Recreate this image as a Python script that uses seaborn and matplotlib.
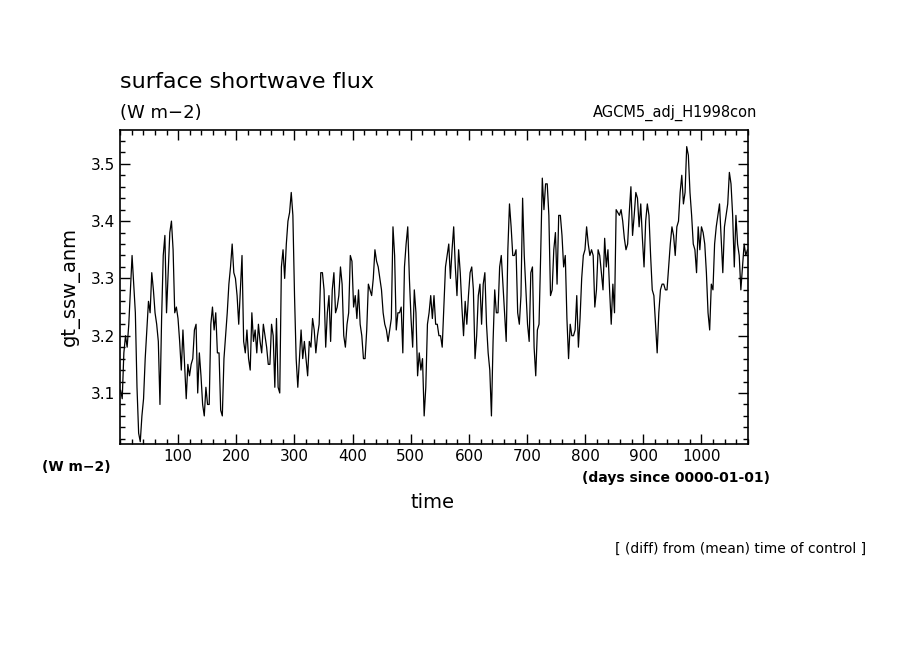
import numpy as np
import pandas as pd
import matplotlib
matplotlib.use("Agg")
import matplotlib.pyplot as plt
from matplotlib.ticker import MultipleLocator
import seaborn as sns

seg1 = [3.105,3.09,3.17,3.20,3.18,3.22,3.28,3.34,3.29,3.24,3.11,3.03,3.015,3.06,3.09,3.16,3.21,3.26,3.24,3.31,
        3.28,3.24,3.22,3.19,3.08,3.23,3.34,3.375,3.24,3.31,3.38,3.40,3.35,3.24,3.25,3.23,3.19,3.14,3.21,3.15,
        3.09,3.15,3.13,3.15,3.16,3.21,3.22,3.10,3.17,3.13,3.08,3.06,3.11,3.08,3.08,3.22,3.25,3.21,3.24,3.17,
        3.17,3.07,3.06,3.16,3.20,3.24,3.29,3.32,3.36,3.31,3.30,3.27,3.22,3.28,3.34,3.19,3.17,3.21,3.16,3.14,
        3.24,3.19,3.21,3.17,3.22,3.19,3.17,3.22,3.20,3.18,3.15,3.15,3.22,3.20,3.11]
seg2 = [3.23,3.11,3.10,3.32,3.35,3.30,3.36,3.40,3.415,3.45,3.41,3.27,3.16,3.11,3.16,3.21,3.16,3.19,3.16,3.13,
        3.19,3.18,3.23,3.21,3.17,3.20,3.22,3.31,3.31,3.28,3.18,3.24,3.27,3.19,3.28,3.31,3.24,3.25,3.27,3.32,
        3.29,3.20,3.18,3.22,3.24,3.34,3.33,3.25,3.27,3.23,3.28,3.22,3.20,3.16,3.16,3.21,3.29,3.28,3.27,3.30,
        3.35,3.33,3.32,3.30,3.28,3.24,3.22,3.21,3.19,3.21,3.23,3.39,3.34,3.21,3.24,3.24,3.25,3.17,3.32,3.36,
        3.39,3.30,3.23,3.18,3.28,3.24,3.13,3.17,3.14,3.16,3.06,3.11,3.22,3.24,3.27,3.23]
seg3 = [3.27,3.22,3.22,3.20,3.20,3.18,3.25,3.32,3.34,3.36,3.30,3.35,3.39,3.32,3.27,3.35,3.31,3.25,3.20,3.26,
        3.22,3.27,3.31,3.32,3.28,3.16,3.20,3.27,3.29,3.22,3.29,3.31,3.22,3.17,3.14,3.06,3.19,3.28,3.24,3.24,
        3.32,3.34,3.29,3.24,3.19,3.35,3.43,3.39,3.34,3.34,3.35,3.24,3.22,3.27,3.44,3.34,3.28,3.22,3.19,3.31,
        3.32,3.18,3.13,3.21,3.22,3.34,3.475,3.42,3.465,3.465,3.41,3.27,3.28,3.35,3.38,3.29,3.41,3.41,3.375,3.32,
        3.34,3.23,3.16,3.22,3.20,3.20,3.21,3.27,3.18,3.23,3.30,3.34,3.35,3.39,3.36,3.34]
seg4 = [3.35,3.34,3.25,3.28,3.35,3.34,3.31,3.28,3.37,3.32,3.35,3.28,3.22,3.29,3.24,3.42,3.415,3.41,3.42,3.40,
        3.37,3.35,3.36,3.415,3.46,3.375,3.41,3.45,3.44,3.39,3.43,3.37,3.32,3.40,3.43,3.41,3.34,3.28,3.27,3.22,
        3.17,3.24,3.28,3.29,3.29,3.28,3.28,3.32,3.36,3.39,3.375,3.34,3.39,3.40,3.45,3.48,3.43,3.45,3.53,3.515,
        3.45,3.41,3.36,3.35,3.31,3.39,3.35,3.39,3.38,3.36,3.31,3.24,3.21,3.29,3.28,3.36,3.39,3.41,3.43,3.37,
        3.31,3.39,3.41,3.43,3.485,3.465,3.41,3.32,3.41,3.36,3.34,3.28,3.32,3.36,3.34,3.35]
values = seg1 + seg2 + seg3 + seg4
days = np.linspace(1, 1079, len(values))
df = pd.DataFrame({"time": days, "gt_ssw_anm": values})

sns.set_style("ticks")
plt.rcParams['font.family'] = ['DejaVu Sans']
plt.rcParams['text.color'] = 'black'
plt.rcParams['axes.labelcolor'] = 'black'
plt.rcParams['xtick.color'] = 'black'
plt.rcParams['ytick.color'] = 'black'
plt.rcParams['axes.edgecolor'] = 'black'
fig = plt.figure(figsize=(9.04, 6.54), dpi=100)
ax = fig.add_axes([120/904, 1-444/654, 628/904, 314/654])
sns.lineplot(data=df, x="time", y="gt_ssw_anm", ax=ax, color="black", linewidth=0.9, estimator=None)
ax.set_xlim(0, 1080)
ax.set_ylim(3.011, 3.559)
ax.set_xticks([100,200,300,400,500,600,700,800,900,1000])
ax.set_yticks([3.1,3.2,3.3,3.4,3.5])
ax.xaxis.set_minor_locator(MultipleLocator(20))
ax.yaxis.set_minor_locator(MultipleLocator(0.02))
ax.tick_params(which="both", direction="in", top=True, right=True, labelsize=11, width=1)
ax.tick_params(which="major", length=7)
ax.tick_params(which="minor", length=3.5)
for s in ax.spines.values():
    s.set_linewidth(1.2)
ax.set_xlabel("")
ax.set_ylabel("gt_ssw_anm", fontsize=14, labelpad=8)
fig.text(120/904, 1-82/654, "surface shortwave flux", fontsize=16, va="center", ha="left")
fig.text(120/904, 1-113/654, "(W m\u22122)", fontsize=13, va="center", ha="left")
fig.text(757/904, 1-113/654, "AGCM5_adj_H1998con", fontsize=10.5, va="center", ha="right")
fig.text(42/904, 1-467/654, "(W m\u22122)", fontsize=10, va="center", ha="left", fontweight="bold")
fig.text(770/904, 1-478/654, "(days since 0000-01-01)", fontsize=10, va="center", ha="right", fontweight="bold")
fig.text(433/904, 1-502/654, "time", fontsize=14, va="center", ha="center")
fig.text(866/904, 1-549/654, "[ (diff) from (mean) time of control ]", fontsize=10, va="center", ha="right")
fig.savefig("out.png", dpi=100)
